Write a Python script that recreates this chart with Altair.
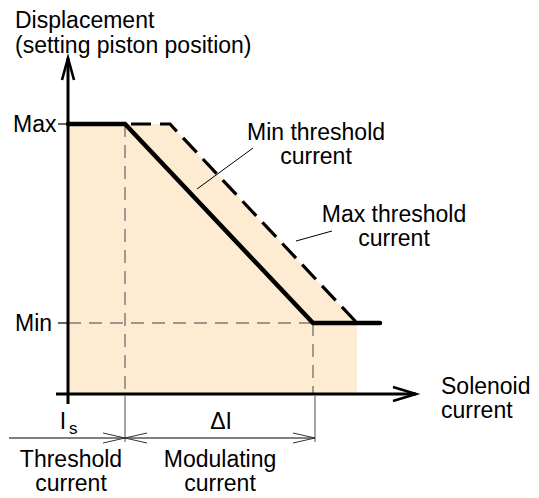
import altair as alt
import pandas as pd

# ---- schematic values (current on x, displacement on y, in drawing units) ----
# characteristic with minimum threshold current (bold)
min_curve_x = [68, 125, 313, 380]
min_curve_y = [124, 124, 323, 323]
# characteristic with maximum threshold current (dashed)
max_curve_x = [131, 170, 357]
max_curve_y = [124, 124, 323]
# shaded tolerance band
band_x = [68, 170, 357]
band_top = [124, 124, 323]
band_bottom = [394, 394, 394]

# axes
y_axis_x = [68, 68]
y_axis_y = [404, 58]
x_axis_x = [56, 416]
x_axis_y = [394, 394]
y_arrow_x = [62, 68, 74]
y_arrow_y = [80, 58, 80]
x_arrow_x = [393, 416, 393]
x_arrow_y = [387, 394, 401]

# level ticks
tick_x = [[58, 68], [58, 68]]
tick_y = [[124, 124], [323, 323]]

# dashed guides
guide_h_x = [68, 313]
guide_h_y = [323, 323]
guide_v_x = [[125, 125], [313, 313]]
guide_v_y = [[124, 394], [323, 394]]

# dimension lines below axis
ext_x = [[125, 125], [315, 315]]
ext_y = [[396, 442], [396, 442]]
dim_x = [9, 315]
dim_y = [438, 438]
dim_heads_x = [[103, 125, 103], [147, 125, 147], [293, 315, 293]]
dim_heads_y = [[433, 438, 443], [433, 438, 443], [433, 438, 443]]

# leader lines
leader_x = [[253, 197], [332, 296]]
leader_y = [[148, 189], [231, 241]]

# texts
title_text = ["Displacement\n(setting piston position)"]
title_x = [15]
title_y = [28]

left_text = ["Max", "Min", "Solenoid\ncurrent"]
left_x = [13, 15, 441]
left_y = [132, 331, 394]

center_text = ["Min threshold\ncurrent", "Max threshold\ncurrent", "I", "\u0394I",
               "Threshold\ncurrent", "Modulating\ncurrent"]
center_x = [316, 394, 63, 221, 71, 220]
center_y = [140, 222, 429, 429, 467, 467]

sub_text = ["s"]
sub_x = [69]
sub_y = [434]

FILL = "#FDEBD2"
FONT = "Liberation Sans"

X = alt.X("x:Q", scale=alt.Scale(domain=[8, 531], nice=False, zero=False), axis=None)
Y = alt.Y("y:Q", scale=alt.Scale(domain=[8, 494], nice=False, zero=False, reverse=True), axis=None)


def seg_df(xs, ys):
    rows = []
    for i, (sx, sy) in enumerate(zip(xs, ys)):
        for j, (a, b) in enumerate(zip(sx, sy)):
            rows.append({"seg": i, "o": j, "x": a, "y": b})
    return pd.DataFrame(rows)


def lines(xs, ys, **kw):
    return alt.Chart(seg_df(xs, ys)).mark_line(**kw).encode(
        x=X, y=Y, detail="seg:N", order="o:Q"
    )


def texts(xs, ys, ts, align, size=23, lh=24):
    return alt.Chart(pd.DataFrame({"x": xs, "y": ys, "t": ts})).mark_text(
        align=align, baseline="alphabetic", font=FONT, fontSize=size, color="black",
        lineBreak="\n", lineHeight=lh
    ).encode(x=X, y=Y, text="t:N")


band = alt.Chart(pd.DataFrame({"x": band_x, "y": band_top, "y2": band_bottom})).mark_area(
    color=FILL, opacity=1
).encode(x=X, y=Y, y2="y2:Q")

guides_h = lines([guide_h_x], [guide_h_y], color="#444444", strokeWidth=1.2, strokeDash=[13, 8])
guides_v = lines(guide_v_x, guide_v_y, color="#777777", strokeWidth=1.4, strokeDash=[13, 8])
max_curve = lines([max_curve_x], [max_curve_y], color="black", strokeWidth=3.2,
                  strokeDash=[20, 9], strokeJoin="miter")
min_curve = lines([min_curve_x], [min_curve_y], color="black", strokeWidth=4.5,
                  strokeJoin="miter", strokeCap="round")
axes = lines([y_axis_x, x_axis_x], [y_axis_y, x_axis_y], color="black", strokeWidth=3)
arrows = lines([y_arrow_x, x_arrow_x], [y_arrow_y, x_arrow_y], color="black",
               strokeWidth=2.6, strokeJoin="miter")
ticks = lines(tick_x, tick_y, color="black", strokeWidth=1.2)
ext = lines(ext_x, ext_y, color="#888888", strokeWidth=1.5)
dim = lines([dim_x], [dim_y], color="black", strokeWidth=1.1)
dim_heads = lines(dim_heads_x, dim_heads_y, color="#333333", strokeWidth=1.0)
leaders = lines(leader_x, leader_y, color="black", strokeWidth=1.0)

t_title = texts(title_x, title_y, title_text, "left", lh=25)
t_left = texts(left_x, left_y, left_text, "left")
t_center = texts(center_x, center_y, center_text, "center", lh=23.5)
t_sub = texts(sub_x, sub_y, sub_text, "left", size=17)

chart = alt.layer(
    band, guides_h, guides_v, max_curve, min_curve, axes, arrows, ticks, ext, dim,
    dim_heads, leaders, t_title, t_left, t_center, t_sub
).properties(
    width=523, height=486, padding=0, autosize=alt.AutoSizeParams(type="none"),
    background="white"
).configure_view(stroke=None)

chart.save("out.html", embed_options={"renderer": "svg", "actions": False})
